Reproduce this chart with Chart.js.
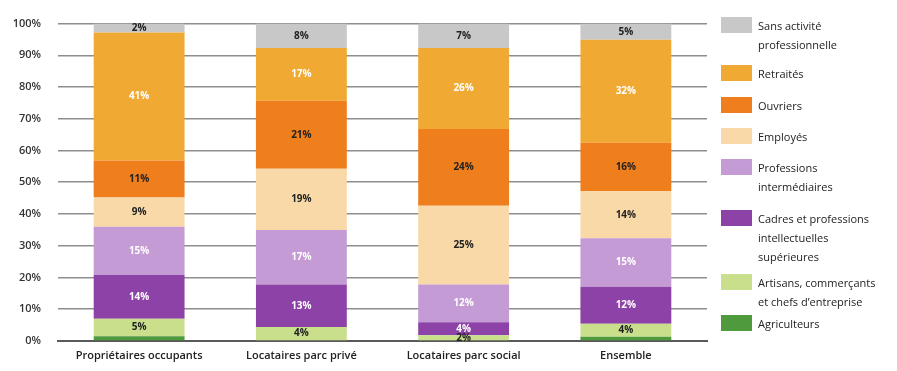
<!DOCTYPE html>
<html>
<head>
<meta charset="utf-8">
<script src="https://cdn.jsdelivr.net/npm/chart.js@4/dist/chart.umd.min.js"></script>
<style>
  html, body { margin: 0; padding: 0; background: #fff; }
  #wrap { position: relative; width: 897px; height: 371px; }
  #legend { position: absolute; left: 0; top: 0; font-family: "Open Sans", sans-serif; font-size: 11px; color: #222; }
  .li { position: absolute; left: 721px; display: flex; align-items: flex-start; }
  .box { width: 31px; height: 16px; flex: none; }
  .txt { margin-left: 6px; line-height: 19px; margin-top: -1px; white-space: nowrap; }
</style>
</head>
<body>
<div id="wrap">
  <canvas id="c" width="897" height="371"></canvas>
  <div id="legend"></div>
</div>
<script>
const categories = ['Propriétaires occupants', 'Locataires parc privé', 'Locataires parc social', 'Ensemble'];
const tickLabels = ['0%','10%','20%','30%','40%','50%','60%','70%','80%','90%','100%'];

const agriculteurs = [1.5, 0, 0, 1.3];
const artisans     = [5.5, 4.4, 1.8, 4.1];
const cadres       = [13.8, 13.4, 4.1, 11.7];
const profInter    = [15.2, 17.2, 11.9, 15.3];
const employes     = [9.2, 19.3, 24.8, 14.8];
const ouvriers     = [11.7, 21.4, 24.2, 15.3];
const retraites    = [40.3, 16.6, 25.5, 32.4];
const sansActivite = [2.8, 7.7, 7.7, 5.1];

const lblAgriculteurs = [null, null, null, null];
const lblArtisans     = ['5%', '4%', '2%', '4%'];
const lblCadres       = ['14%', '13%', '4%', '12%'];
const lblProfInter    = ['15%', '17%', '12%', '15%'];
const lblEmployes     = ['9%', '19%', '25%', '14%'];
const lblOuvriers     = ['11%', '21%', '24%', '16%'];
const lblRetraites    = ['41%', '17%', '26%', '32%'];
const lblSans         = ['2%', '8%', '7%', '5%'];

const seriesNames = [
  'Agriculteurs',
  'Artisans, commerçants\net chefs d\u2019entreprise',
  'Cadres et professions\nintellectuelles\nsupérieures',
  'Professions\nintermédiaires',
  'Employés',
  'Ouvriers',
  'Retraités',
  'Sans activité\nprofessionnelle'
];

const colors = ['#4e9a3c', '#c9df8c', '#8d42a8', '#c49bd4', '#f9d9a8', '#ef7e1d', '#f0aa34', '#c8c8c8'];
const labelColors = ['#222', '#222', '#fff', '#fff', '#222', '#222', '#fff', '#222'];
const values = [agriculteurs, artisans, cadres, profInter, employes, ouvriers, retraites, sansActivite];
const labels = [lblAgriculteurs, lblArtisans, lblCadres, lblProfInter, lblEmployes, lblOuvriers, lblRetraites, lblSans];

const datasets = values.map((v, i) => ({
  label: seriesNames[i].replace(/\n/g, ' '),
  data: v,
  backgroundColor: colors[i],
  borderWidth: 0,
  barPercentage: 0.56,
  categoryPercentage: 1.0,
  segLabels: labels[i],
  labelColor: labelColors[i]
}));

const segLabelPlugin = {
  id: 'segLabels',
  afterDatasetsDraw(chart) {
    const ctx = chart.ctx;
    ctx.save();
    ctx.font = 'bold 10px "Open Sans", sans-serif';
    ctx.textAlign = 'center';
    ctx.textBaseline = 'middle';
    chart.data.datasets.forEach((ds, di) => {
      const meta = chart.getDatasetMeta(di);
      meta.data.forEach((bar, j) => {
        const t = ds.segLabels[j];
        if (!t) return;
        const y = (bar.y + bar.base) / 2;
        ctx.fillStyle = ds.labelColor;
        ctx.fillText(t, bar.x, y);
      });
    });
    ctx.restore();
  }
};

Chart.defaults.font.family = '"Open Sans", sans-serif';
Chart.defaults.color = '#222';

new Chart(document.getElementById('c'), {
  type: 'bar',
  data: { labels: categories, datasets },
  options: {
    responsive: false,
    animation: false,
    maintainAspectRatio: false,
    layout: { padding: { left: 0, right: 190, top: 14, bottom: 0 } },
    plugins: { legend: { display: false }, tooltip: { enabled: false } },
    scales: {
      x: {
        stacked: true,
        grid: { display: false, drawTicks: false },
        border: { display: true, color: '#5a5a5a', width: 2 },
        ticks: { padding: 8, font: { size: 11, weight: '600' }, color: '#222', maxRotation: 0 },
        afterFit(s) { s.height = 30; }
      },
      y: {
        stacked: true,
        min: 0, max: 100,
        grid: { color: '#8e8e8e', lineWidth: 1.6, drawTicks: false },
        border: { display: false },
        ticks: {
          stepSize: 10, padding: 17, font: { size: 11, weight: '600' }, color: '#333',
          callback: (v, i) => tickLabels[i]
        },
        afterFit(s) { s.width = 58; }
      }
    }
  },
  plugins: [segLabelPlugin]
});

// HTML legend
const legendTops = [17, 65, 97, 128, 159, 210, 274, 315];
const order = [7, 6, 5, 4, 3, 2, 1, 0];
const leg = document.getElementById('legend');
order.forEach((idx, k) => {
  const d = document.createElement('div');
  d.className = 'li';
  d.style.top = legendTops[k] + 'px';
  const b = document.createElement('div');
  b.className = 'box';
  b.style.background = colors[idx];
  const t = document.createElement('div');
  t.className = 'txt';
  t.innerHTML = seriesNames[idx].split('\n').join('<br>');
  d.appendChild(b); d.appendChild(t);
  leg.appendChild(d);
});
</script>
</body>
</html>
